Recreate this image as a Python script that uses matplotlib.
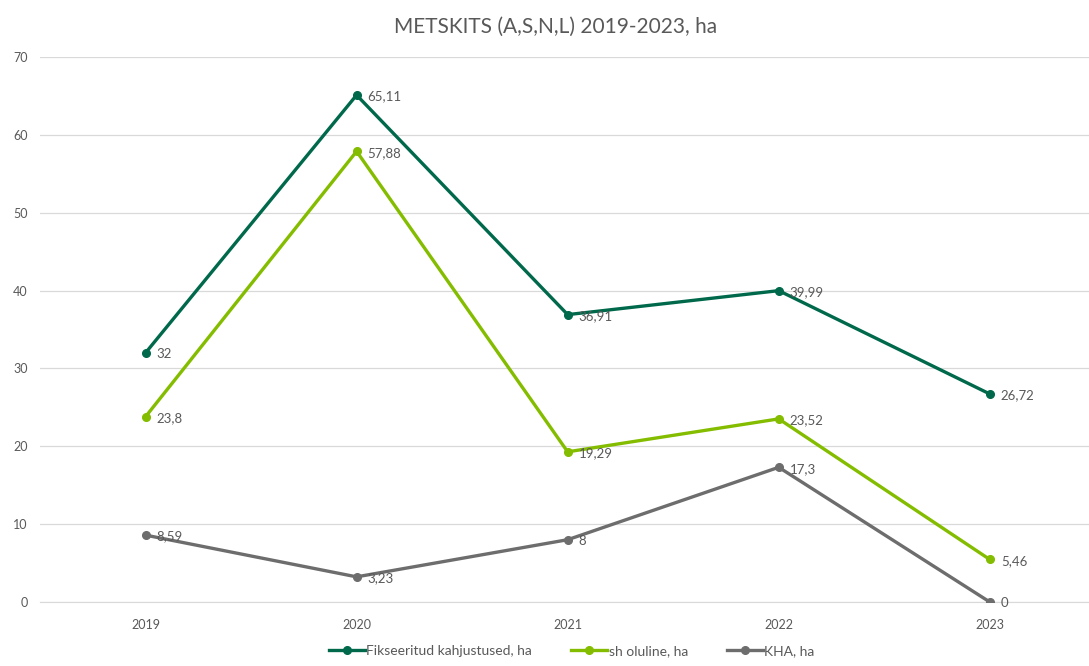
import matplotlib.pyplot as plt

# Data
years = ['2019', '2020', '2021', '2022', '2023']
fikseeritud = [32, 65.11, 36.91, 39.99, 26.72]
oluline = [23.8, 57.88, 19.29, 23.52, 5.46]
kha = [8.59, 3.23, 8, 17.3, 0]

series_names = ['Fikseeritud kahjustused, ha', 'sh oluline, ha', 'KHA, ha']
colors = ['#00694B', '#84BD00', '#6D6D6D']

plt.rcParams['font.family'] = ['Lato', 'DejaVu Sans']
text_col = '#595959'

fig = plt.figure(figsize=(10.89, 6.66), dpi=100)
ax = fig.add_axes([40 / 1089, 1 - 602 / 666, 1 - 40 / 1089, (602 - 57) / 666])

x = list(range(len(years)))
for vals, name, c in zip([fikseeritud, oluline, kha], series_names, colors):
    ax.plot(x, vals, color=c, lw=2.4, marker='o', ms=5.5, label=name,
            solid_joinstyle='round', zorder=3)
    for xi, v in zip(x, vals):
        lbl = ('%g' % v).replace('.', ',')
        ax.annotate(lbl, (xi, v), xytext=(8, -1), textcoords='offset points',
                    ha='left', va='center', fontsize=9.5, color=text_col, zorder=4)

ax.set_xlim(-0.5, 4.47)
ax.set_ylim(0, 70)
ax.set_yticks(range(0, 71, 10))
ax.set_xticks(x)
ax.set_xticklabels(years)
ax.grid(axis='y', color='#D9D9D9', lw=0.9)
ax.set_axisbelow(True)
for s in ['top', 'right', 'left']:
    ax.spines[s].set_visible(False)
ax.spines['bottom'].set_color('#D9D9D9')
ax.tick_params(axis='both', length=0, colors=text_col, labelsize=9)
ax.tick_params(axis='y', pad=9)
ax.tick_params(axis='x', pad=12)

fig.suptitle('METSKITS (A,S,N,L) 2019-2023, ha', x=0.51, y=0.975, fontsize=15, color=text_col)
fig.legend(loc='lower center', bbox_to_anchor=(0.525, -0.005), ncol=3, frameon=False,
           fontsize=10, labelcolor=text_col, handlelength=2.6, handletextpad=0.1,
           columnspacing=2.8)

fig.savefig('out.png', dpi=100)
